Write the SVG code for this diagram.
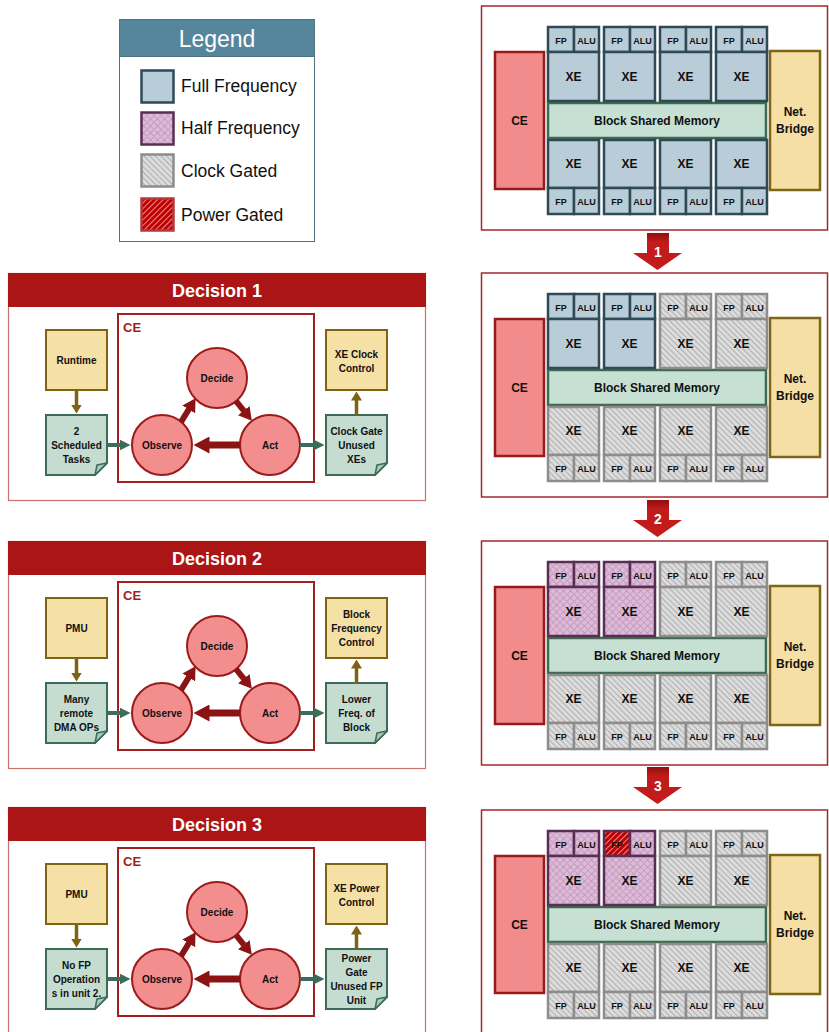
<svg xmlns="http://www.w3.org/2000/svg" width="829" height="1032" viewBox="0 0 829 1032">
<style>
text{font-family:"Liberation Sans",Arial,sans-serif;font-weight:bold;text-anchor:middle;fill:#111}
.full{fill:#b8cdd8;stroke:#2e4a56;stroke-width:2.5}
.half{fill:url(#halfP);stroke:#5a2d54;stroke-width:2.5}
.clk{fill:url(#clkP);stroke:#8d8d8d;stroke-width:2.5}
.pwr{fill:url(#pwrP);stroke:#5a2d54;stroke-width:2.5}
.ce{fill:#f28b8b;stroke:#981b1b;stroke-width:2.5}
.nb{fill:#f5dfa4;stroke:#7f6516;stroke-width:2.5}
.mem{fill:#c6e0d4;stroke:#3e6a50;stroke-width:2.5}
.frame{fill:#fff;stroke:#a3292b;stroke-width:1.5}
.b12{font-size:12px}
.b9{font-size:9px}
.pbody{fill:#fff;stroke:#c9706c;stroke-width:1.2}
.phead{fill:#ab1515}
.ph{font-size:18px;fill:#fff}
.cebox{fill:none;stroke:#a31f1f;stroke-width:2}
.cel{font-size:13px;fill:#a31f1f;text-anchor:start}
.src{fill:#f5e0a6;stroke:#7e6314;stroke-width:2}
.doc{fill:#c5ddd1;stroke:#3e6b57;stroke-width:2}
.fold{fill:#a9c9b9;stroke:#3e6b57;stroke-width:1.5;stroke-linejoin:round}
.circ{fill:#f28e8e;stroke:#9c1a1a;stroke-width:2}
.t10{font-size:10px}
.lg{font-weight:normal;text-anchor:start;font-size:17.5px}
.olive{stroke:#7e6314;stroke-width:3.5;fill:none;marker-end:url(#mO)}
.green{stroke:#3d6c5b;stroke-width:4;fill:none;marker-end:url(#mG)}
.red{stroke:#8b1313;stroke-width:6;fill:none;marker-end:url(#mR)}
.redb{stroke:#8b1313;stroke-width:7;fill:none;marker-end:url(#mRB)}
.barrow{fill:url(#arrG)}
.anum{font-size:14px;fill:#fff}
</style>
<defs>
<pattern id="clkP" width="4" height="4" patternUnits="userSpaceOnUse" patternTransform="rotate(45)">
<rect width="4" height="4" fill="#dcdcdc"/><line x1="0" y1="0.5" x2="4" y2="0.5" stroke="#a3a3a3" stroke-width="0.8"/>
</pattern>
<pattern id="pwrP" width="4" height="4" patternUnits="userSpaceOnUse" patternTransform="rotate(-45)">
<rect width="4" height="4" fill="#c00000"/><line x1="0" y1="0.5" x2="4" y2="0.5" stroke="#f3b0b0" stroke-width="0.8"/>
</pattern>
<pattern id="halfP" width="7" height="7" patternUnits="userSpaceOnUse">
<rect width="7" height="7" fill="#dcbad8"/><path d="M0,3.5 L3.5,0 L7,3.5 L3.5,7 Z" fill="none" stroke="#b287ad" stroke-width="0.8"/>
</pattern>
<linearGradient id="arrG" x1="0" y1="0" x2="0" y2="1">
<stop offset="0" stop-color="#8e1010"/><stop offset="0.25" stop-color="#c21b1b"/><stop offset="1" stop-color="#c41a1a"/>
</linearGradient>
<marker id="mO" markerUnits="userSpaceOnUse" markerWidth="9" markerHeight="11" viewBox="0 0 9 11" refX="0.5" refY="5.5" orient="auto"><path d="M0,0 L9,5.5 L0,11 Z" fill="#7e6314"/></marker>
<marker id="mG" markerUnits="userSpaceOnUse" markerWidth="11" markerHeight="11" viewBox="0 0 11 11" refX="0.5" refY="5.5" orient="auto"><path d="M0,0 L11,5.5 L0,11 Z" fill="#3d6c5b"/></marker>
<marker id="mR" markerUnits="userSpaceOnUse" markerWidth="13" markerHeight="15" viewBox="0 0 13 15" refX="0.5" refY="7.5" orient="auto"><path d="M0,0 L13,7.5 L0,15 Z" fill="#8b1313"/></marker>
<marker id="mRB" markerUnits="userSpaceOnUse" markerWidth="16" markerHeight="17" viewBox="0 0 16 17" refX="0.5" refY="8.5" orient="auto"><path d="M0,0 L16,8.5 L0,17 Z" fill="#8b1313"/></marker>
</defs>
<rect width="829" height="1032" fill="#fff"/>

<g id="legend">
<rect x="119.5" y="19.5" width="195" height="222" fill="#fff" stroke="#4f7383"/>
<rect x="119.5" y="19.5" width="195" height="37" fill="#55869b" stroke="#4f7383"/>
<text x="217" y="47" style="font-weight:normal;font-size:23px;fill:#fff">Legend</text>
<rect class="full" x="141.5" y="70.5" width="32" height="32"/><text class="lg" x="181" y="92">Full Frequency</text>
<rect class="half" x="141.5" y="112.5" width="32" height="32"/><text class="lg" x="181" y="134">Half Frequency</text>
<rect class="clk" x="141.5" y="154.5" width="32" height="32"/><text class="lg" x="181" y="177">Clock Gated</text>
<rect class="pwr" style="stroke:#b73a3a" x="141.5" y="198.5" width="32" height="32"/><text class="lg" x="181" y="221">Power Gated</text>
</g>

<g id="block1">
<rect class="frame" x="481.5" y="6" width="346" height="224"/>
<rect class="ce" x="495" y="52" width="49" height="137"/><text class="b12" x="519.5" y="125">CE</text>
<rect class="nb" x="770" y="51" width="50" height="139"/><text class="b12" x="795" y="116">Net.</text><text class="b12" x="795" y="133">Bridge</text>
<rect class="mem" x="548" y="103" width="218" height="35"/><text class="b12" x="657" y="125">Block Shared Memory</text>
<rect class="full" x="548" y="27" width="26" height="25"/><rect class="full" x="574" y="27" width="25" height="25"/><rect class="full" x="548" y="52" width="51" height="49"/>
<rect class="full" x="548" y="140" width="51" height="48"/><rect class="full" x="548" y="188" width="26" height="26"/><rect class="full" x="574" y="188" width="25" height="26"/>
<rect class="full" x="604" y="27" width="26" height="25"/><rect class="full" x="630" y="27" width="25" height="25"/><rect class="full" x="604" y="52" width="51" height="49"/>
<rect class="full" x="604" y="140" width="51" height="48"/><rect class="full" x="604" y="188" width="26" height="26"/><rect class="full" x="630" y="188" width="25" height="26"/>
<rect class="full" x="660" y="27" width="26" height="25"/><rect class="full" x="686" y="27" width="25" height="25"/><rect class="full" x="660" y="52" width="51" height="49"/>
<rect class="full" x="660" y="140" width="51" height="48"/><rect class="full" x="660" y="188" width="26" height="26"/><rect class="full" x="686" y="188" width="25" height="26"/>
<rect class="full" x="716" y="27" width="26" height="25"/><rect class="full" x="742" y="27" width="25" height="25"/><rect class="full" x="716" y="52" width="51" height="49"/>
<rect class="full" x="716" y="140" width="51" height="48"/><rect class="full" x="716" y="188" width="26" height="26"/><rect class="full" x="742" y="188" width="25" height="26"/>
<text class="b9" x="561" y="44">FP</text><text class="b9" x="586.5" y="44">ALU</text><text class="b12" x="573.5" y="81">XE</text><text class="b12" x="573.5" y="168">XE</text><text class="b9" x="561" y="205">FP</text><text class="b9" x="586.5" y="205">ALU</text>
<text class="b9" x="617" y="44">FP</text><text class="b9" x="642.5" y="44">ALU</text><text class="b12" x="629.5" y="81">XE</text><text class="b12" x="629.5" y="168">XE</text><text class="b9" x="617" y="205">FP</text><text class="b9" x="642.5" y="205">ALU</text>
<text class="b9" x="673" y="44">FP</text><text class="b9" x="698.5" y="44">ALU</text><text class="b12" x="685.5" y="81">XE</text><text class="b12" x="685.5" y="168">XE</text><text class="b9" x="673" y="205">FP</text><text class="b9" x="698.5" y="205">ALU</text>
<text class="b9" x="729" y="44">FP</text><text class="b9" x="754.5" y="44">ALU</text><text class="b12" x="741.5" y="81">XE</text><text class="b12" x="741.5" y="168">XE</text><text class="b9" x="729" y="205">FP</text><text class="b9" x="754.5" y="205">ALU</text>
</g>

<g id="block2" transform="translate(0,267)">
<rect class="frame" x="481.5" y="6" width="346" height="224"/>
<rect class="ce" x="495" y="52" width="49" height="137"/><text class="b12" x="519.5" y="125">CE</text>
<rect class="nb" x="770" y="51" width="50" height="139"/><text class="b12" x="795" y="116">Net.</text><text class="b12" x="795" y="133">Bridge</text>
<rect class="mem" x="548" y="103" width="218" height="35"/><text class="b12" x="657" y="125">Block Shared Memory</text>
<rect class="full" x="548" y="27" width="26" height="25"/><rect class="full" x="574" y="27" width="25" height="25"/><rect class="full" x="548" y="52" width="51" height="49"/>
<rect class="clk" x="548" y="140" width="51" height="48"/><rect class="clk" x="548" y="188" width="26" height="26"/><rect class="clk" x="574" y="188" width="25" height="26"/>
<rect class="full" x="604" y="27" width="26" height="25"/><rect class="full" x="630" y="27" width="25" height="25"/><rect class="full" x="604" y="52" width="51" height="49"/>
<rect class="clk" x="604" y="140" width="51" height="48"/><rect class="clk" x="604" y="188" width="26" height="26"/><rect class="clk" x="630" y="188" width="25" height="26"/>
<rect class="clk" x="660" y="27" width="26" height="25"/><rect class="clk" x="686" y="27" width="25" height="25"/><rect class="clk" x="660" y="52" width="51" height="49"/>
<rect class="clk" x="660" y="140" width="51" height="48"/><rect class="clk" x="660" y="188" width="26" height="26"/><rect class="clk" x="686" y="188" width="25" height="26"/>
<rect class="clk" x="716" y="27" width="26" height="25"/><rect class="clk" x="742" y="27" width="25" height="25"/><rect class="clk" x="716" y="52" width="51" height="49"/>
<rect class="clk" x="716" y="140" width="51" height="48"/><rect class="clk" x="716" y="188" width="26" height="26"/><rect class="clk" x="742" y="188" width="25" height="26"/>
<text class="b9" x="561" y="44">FP</text><text class="b9" x="586.5" y="44">ALU</text><text class="b12" x="573.5" y="81">XE</text><text class="b12" x="573.5" y="168">XE</text><text class="b9" x="561" y="205">FP</text><text class="b9" x="586.5" y="205">ALU</text>
<text class="b9" x="617" y="44">FP</text><text class="b9" x="642.5" y="44">ALU</text><text class="b12" x="629.5" y="81">XE</text><text class="b12" x="629.5" y="168">XE</text><text class="b9" x="617" y="205">FP</text><text class="b9" x="642.5" y="205">ALU</text>
<text class="b9" x="673" y="44">FP</text><text class="b9" x="698.5" y="44">ALU</text><text class="b12" x="685.5" y="81">XE</text><text class="b12" x="685.5" y="168">XE</text><text class="b9" x="673" y="205">FP</text><text class="b9" x="698.5" y="205">ALU</text>
<text class="b9" x="729" y="44">FP</text><text class="b9" x="754.5" y="44">ALU</text><text class="b12" x="741.5" y="81">XE</text><text class="b12" x="741.5" y="168">XE</text><text class="b9" x="729" y="205">FP</text><text class="b9" x="754.5" y="205">ALU</text>
</g>

<g id="block3" transform="translate(0,535)">
<rect class="frame" x="481.5" y="6" width="346" height="224"/>
<rect class="ce" x="495" y="52" width="49" height="137"/><text class="b12" x="519.5" y="125">CE</text>
<rect class="nb" x="770" y="51" width="50" height="139"/><text class="b12" x="795" y="116">Net.</text><text class="b12" x="795" y="133">Bridge</text>
<rect class="mem" x="548" y="103" width="218" height="35"/><text class="b12" x="657" y="125">Block Shared Memory</text>
<rect class="half" x="548" y="27" width="26" height="25"/><rect class="half" x="574" y="27" width="25" height="25"/><rect class="half" x="548" y="52" width="51" height="49"/>
<rect class="clk" x="548" y="140" width="51" height="48"/><rect class="clk" x="548" y="188" width="26" height="26"/><rect class="clk" x="574" y="188" width="25" height="26"/>
<rect class="half" x="604" y="27" width="26" height="25"/><rect class="half" x="630" y="27" width="25" height="25"/><rect class="half" x="604" y="52" width="51" height="49"/>
<rect class="clk" x="604" y="140" width="51" height="48"/><rect class="clk" x="604" y="188" width="26" height="26"/><rect class="clk" x="630" y="188" width="25" height="26"/>
<rect class="clk" x="660" y="27" width="26" height="25"/><rect class="clk" x="686" y="27" width="25" height="25"/><rect class="clk" x="660" y="52" width="51" height="49"/>
<rect class="clk" x="660" y="140" width="51" height="48"/><rect class="clk" x="660" y="188" width="26" height="26"/><rect class="clk" x="686" y="188" width="25" height="26"/>
<rect class="clk" x="716" y="27" width="26" height="25"/><rect class="clk" x="742" y="27" width="25" height="25"/><rect class="clk" x="716" y="52" width="51" height="49"/>
<rect class="clk" x="716" y="140" width="51" height="48"/><rect class="clk" x="716" y="188" width="26" height="26"/><rect class="clk" x="742" y="188" width="25" height="26"/>
<text class="b9" x="561" y="44">FP</text><text class="b9" x="586.5" y="44">ALU</text><text class="b12" x="573.5" y="81">XE</text><text class="b12" x="573.5" y="168">XE</text><text class="b9" x="561" y="205">FP</text><text class="b9" x="586.5" y="205">ALU</text>
<text class="b9" x="617" y="44">FP</text><text class="b9" x="642.5" y="44">ALU</text><text class="b12" x="629.5" y="81">XE</text><text class="b12" x="629.5" y="168">XE</text><text class="b9" x="617" y="205">FP</text><text class="b9" x="642.5" y="205">ALU</text>
<text class="b9" x="673" y="44">FP</text><text class="b9" x="698.5" y="44">ALU</text><text class="b12" x="685.5" y="81">XE</text><text class="b12" x="685.5" y="168">XE</text><text class="b9" x="673" y="205">FP</text><text class="b9" x="698.5" y="205">ALU</text>
<text class="b9" x="729" y="44">FP</text><text class="b9" x="754.5" y="44">ALU</text><text class="b12" x="741.5" y="81">XE</text><text class="b12" x="741.5" y="168">XE</text><text class="b9" x="729" y="205">FP</text><text class="b9" x="754.5" y="205">ALU</text>
</g>

<g id="block4" transform="translate(0,804)">
<rect class="frame" x="481.5" y="6" width="346" height="240"/>
<rect class="ce" x="495" y="52" width="49" height="137"/><text class="b12" x="519.5" y="125">CE</text>
<rect class="nb" x="770" y="51" width="50" height="139"/><text class="b12" x="795" y="116">Net.</text><text class="b12" x="795" y="133">Bridge</text>
<rect class="mem" x="548" y="103" width="218" height="35"/><text class="b12" x="657" y="125">Block Shared Memory</text>
<rect class="half" x="548" y="27" width="26" height="25"/><rect class="half" x="574" y="27" width="25" height="25"/><rect class="half" x="548" y="52" width="51" height="49"/>
<rect class="clk" x="548" y="140" width="51" height="48"/><rect class="clk" x="548" y="188" width="26" height="26"/><rect class="clk" x="574" y="188" width="25" height="26"/>
<rect class="pwr" x="604" y="27" width="26" height="25"/><rect class="half" x="630" y="27" width="25" height="25"/><rect class="half" x="604" y="52" width="51" height="49"/>
<rect class="clk" x="604" y="140" width="51" height="48"/><rect class="clk" x="604" y="188" width="26" height="26"/><rect class="clk" x="630" y="188" width="25" height="26"/>
<rect class="clk" x="660" y="27" width="26" height="25"/><rect class="clk" x="686" y="27" width="25" height="25"/><rect class="clk" x="660" y="52" width="51" height="49"/>
<rect class="clk" x="660" y="140" width="51" height="48"/><rect class="clk" x="660" y="188" width="26" height="26"/><rect class="clk" x="686" y="188" width="25" height="26"/>
<rect class="clk" x="716" y="27" width="26" height="25"/><rect class="clk" x="742" y="27" width="25" height="25"/><rect class="clk" x="716" y="52" width="51" height="49"/>
<rect class="clk" x="716" y="140" width="51" height="48"/><rect class="clk" x="716" y="188" width="26" height="26"/><rect class="clk" x="742" y="188" width="25" height="26"/>
<text class="b9" x="561" y="44">FP</text><text class="b9" x="586.5" y="44">ALU</text><text class="b12" x="573.5" y="81">XE</text><text class="b12" x="573.5" y="168">XE</text><text class="b9" x="561" y="205">FP</text><text class="b9" x="586.5" y="205">ALU</text>
<text class="b9" x="617" y="44">FP</text><text class="b9" x="642.5" y="44">ALU</text><text class="b12" x="629.5" y="81">XE</text><text class="b12" x="629.5" y="168">XE</text><text class="b9" x="617" y="205">FP</text><text class="b9" x="642.5" y="205">ALU</text>
<text class="b9" x="673" y="44">FP</text><text class="b9" x="698.5" y="44">ALU</text><text class="b12" x="685.5" y="81">XE</text><text class="b12" x="685.5" y="168">XE</text><text class="b9" x="673" y="205">FP</text><text class="b9" x="698.5" y="205">ALU</text>
<text class="b9" x="729" y="44">FP</text><text class="b9" x="754.5" y="44">ALU</text><text class="b12" x="741.5" y="81">XE</text><text class="b12" x="741.5" y="168">XE</text><text class="b9" x="729" y="205">FP</text><text class="b9" x="754.5" y="205">ALU</text>
</g>

<g id="decision1">
<rect class="pbody" x="8.5" y="273.5" width="417" height="227"/>
<rect class="phead" x="8" y="273" width="418" height="34"/>
<text class="ph" x="217" y="297">Decision 1</text>
<rect class="cebox" x="118" y="314" width="196" height="168"/>
<text class="cel" x="123" y="332">CE</text>
<g id="d1-input"><rect class="src" x="46" y="330" width="61" height="60"/><text class="t10" x="76.5" y="364">Runtime</text></g>
<g id="d1-doc"><path class="doc" d="M46,415 H107 V463 L95,475 H46 Z"/><path class="fold" d="M95,475 L97,465 L107,463 Z"/>
<text class="t10" x="76.5" y="435">2</text><text class="t10" x="76.5" y="449">Scheduled</text><text class="t10" x="76.5" y="463">Tasks</text></g>
<g id="d1-output"><rect class="src" x="326" y="330" width="61" height="60"/><text class="t10" x="356.5" y="358">XE Clock</text><text class="t10" x="356.5" y="372">Control</text></g>
<g id="d1-action"><path class="doc" d="M326,415 H387 V463 L375,475 H326 Z"/><path class="fold" d="M375,475 L377,465 L387,463 Z"/>
<text class="t10" x="356.5" y="435">Clock Gate</text><text class="t10" x="356.5" y="449">Unused</text><text class="t10" x="356.5" y="463">XEs</text></g>
<g id="d1-decide"><circle class="circ" cx="217" cy="378" r="30"/><text class="t10" x="217" y="382">Decide</text></g>
<g id="d1-observe"><circle class="circ" cx="162" cy="445" r="30"/><text class="t10" x="162" y="449">Observe</text></g>
<g id="d1-act"><circle class="circ" cx="270" cy="445" r="30"/><text class="t10" x="270" y="449">Act</text></g>
</g>

<g id="decision2">
<rect class="pbody" x="8.5" y="541.5" width="417" height="227"/>
<rect class="phead" x="8" y="541" width="418" height="34"/>
<text class="ph" x="217" y="565">Decision 2</text>
<rect class="cebox" x="118" y="582" width="196" height="168"/>
<text class="cel" x="123" y="600">CE</text>
<g id="d2-input"><rect class="src" x="46" y="598" width="61" height="60"/><text class="t10" x="76.5" y="632">PMU</text></g>
<g id="d2-doc"><path class="doc" d="M46,683 H107 V731 L95,743 H46 Z"/><path class="fold" d="M95,743 L97,733 L107,731 Z"/>
<text class="t10" x="76.5" y="703">Many</text><text class="t10" x="76.5" y="717">remote</text><text class="t10" x="76.5" y="731">DMA OPs</text></g>
<g id="d2-output"><rect class="src" x="326" y="598" width="61" height="60"/><text class="t10" x="356.5" y="618">Block</text><text class="t10" x="356.5" y="632">Frequency</text><text class="t10" x="356.5" y="646">Control</text></g>
<g id="d2-action"><path class="doc" d="M326,683 H387 V731 L375,743 H326 Z"/><path class="fold" d="M375,743 L377,733 L387,731 Z"/>
<text class="t10" x="356.5" y="703">Lower</text><text class="t10" x="356.5" y="717">Freq. of</text><text class="t10" x="356.5" y="731">Block</text></g>
<g id="d2-decide"><circle class="circ" cx="217" cy="646" r="30"/><text class="t10" x="217" y="650">Decide</text></g>
<g id="d2-observe"><circle class="circ" cx="162" cy="713" r="30"/><text class="t10" x="162" y="717">Observe</text></g>
<g id="d2-act"><circle class="circ" cx="270" cy="713" r="30"/><text class="t10" x="270" y="717">Act</text></g>
</g>

<g id="decision3">
<rect class="pbody" x="8.5" y="807.5" width="417" height="240"/>
<rect class="phead" x="8" y="807" width="418" height="34"/>
<text class="ph" x="217" y="831">Decision 3</text>
<rect class="cebox" x="118" y="848" width="196" height="168"/>
<text class="cel" x="123" y="866">CE</text>
<g id="d3-input"><rect class="src" x="46" y="864" width="61" height="60"/><text class="t10" x="76.5" y="898">PMU</text></g>
<g id="d3-doc"><path class="doc" d="M46,949 H107 V997 L95,1009 H46 Z"/><path class="fold" d="M95,1009 L97,999 L107,997 Z"/>
<text class="t10" x="76.5" y="969">No FP</text><text class="t10" x="76.5" y="983">Operation</text><text class="t10" x="76.5" y="997">s in unit 2.</text></g>
<g id="d3-output"><rect class="src" x="326" y="864" width="61" height="60"/><text class="t10" x="356.5" y="892">XE Power</text><text class="t10" x="356.5" y="906">Control</text></g>
<g id="d3-action"><path class="doc" d="M326,949 H387 V997 L375,1009 H326 Z"/><path class="fold" d="M375,1009 L377,999 L387,997 Z"/>
<text class="t10" x="356.5" y="962">Power</text><text class="t10" x="356.5" y="976">Gate</text><text class="t10" x="356.5" y="990">Unused FP</text><text class="t10" x="356.5" y="1004">Unit</text></g>
<g id="d3-decide"><circle class="circ" cx="217" cy="912" r="30"/><text class="t10" x="217" y="916">Decide</text></g>
<g id="d3-observe"><circle class="circ" cx="162" cy="979" r="30"/><text class="t10" x="162" y="983">Observe</text></g>
<g id="d3-act"><circle class="circ" cx="270" cy="979" r="30"/><text class="t10" x="270" y="983">Act</text></g>
</g>

<g id="connectors">
<line class="olive" x1="76.5" y1="390" x2="76.5" y2="405"/>
<line class="olive" x1="356.5" y1="415" x2="356.5" y2="400"/>
<line class="green" x1="107" y1="445" x2="120" y2="445"/>
<line class="green" x1="300" y1="445" x2="314" y2="445"/>
<line class="red" x1="181" y1="422" x2="189" y2="409"/>
<line class="red" x1="236" y1="401" x2="244" y2="411"/>
<line class="redb" x1="240" y1="445" x2="209" y2="445"/>

<line class="olive" x1="76.5" y1="658" x2="76.5" y2="673"/>
<line class="olive" x1="356.5" y1="683" x2="356.5" y2="668"/>
<line class="green" x1="107" y1="713" x2="120" y2="713"/>
<line class="green" x1="300" y1="713" x2="314" y2="713"/>
<line class="red" x1="181" y1="690" x2="189" y2="677"/>
<line class="red" x1="236" y1="669" x2="244" y2="679"/>
<line class="redb" x1="240" y1="713" x2="209" y2="713"/>

<line class="olive" x1="76.5" y1="924" x2="76.5" y2="939"/>
<line class="olive" x1="356.5" y1="949" x2="356.5" y2="934"/>
<line class="green" x1="107" y1="979" x2="120" y2="979"/>
<line class="green" x1="300" y1="979" x2="314" y2="979"/>
<line class="red" x1="181" y1="956" x2="189" y2="943"/>
<line class="red" x1="236" y1="935" x2="244" y2="945"/>
<line class="redb" x1="240" y1="979" x2="209" y2="979"/>

<g id="step1"><polygon class="barrow" points="647,233 669,233 669,253 682,253 657.5,270 633,253 647,253"/><text class="anum" x="658" y="257">1</text></g>
<g id="step2" transform="translate(0,267)"><polygon class="barrow" points="647,233 669,233 669,253 682,253 657.5,270 633,253 647,253"/><text class="anum" x="658" y="257">2</text></g>
<g id="step3" transform="translate(0,534)"><polygon class="barrow" points="647,233 669,233 669,253 682,253 657.5,270 633,253 647,253"/><text class="anum" x="658" y="257">3</text></g>
</g>
</svg>
